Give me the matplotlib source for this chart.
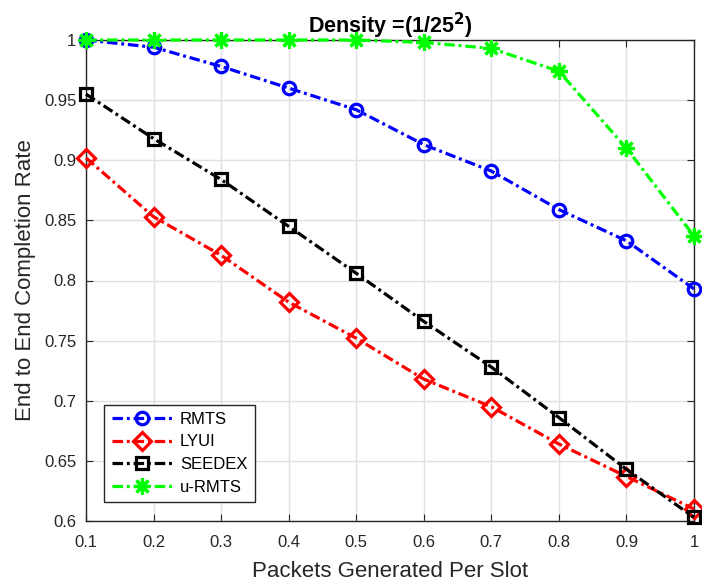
import matplotlib
matplotlib.use("Agg")
import matplotlib.pyplot as plt
from matplotlib.ticker import MultipleLocator, FuncFormatter

plt.rcParams['font.family'] = ['Liberation Sans', 'DejaVu Sans']

x = [0.1, 0.2, 0.3, 0.4, 0.5, 0.6, 0.7, 0.8, 0.9, 1.0]
rmts = [1.0, 0.994, 0.978, 0.960, 0.942, 0.913, 0.891, 0.859, 0.833, 0.793]
lyui = [0.902, 0.853, 0.821, 0.782, 0.752, 0.718, 0.695, 0.664, 0.637, 0.610]
seedex = [0.955, 0.918, 0.884, 0.845, 0.806, 0.766, 0.728, 0.686, 0.643, 0.603]
urmts = [1.0, 1.0, 1.0, 1.0, 1.0, 0.998, 0.993, 0.974, 0.910, 0.837]
labels = ['RMTS', 'LYUI', 'SEEDEX', 'u-RMTS']

fig = plt.figure(figsize=(7.02, 5.85), dpi=100)
ax = fig.add_axes([86/702, 64/585, 608/702, 481/585])

lw = 2.3
mew = 2.3
ls = (0, (3.3, 1.2, 0.9, 1.2))
ax.plot(x, rmts, ls=ls, color='#0000ff', lw=lw, marker='o', ms=9, mfc='none', mew=mew, label=labels[0], clip_on=False, zorder=3)
ax.plot(x, lyui, ls=ls, color='#ff0000', lw=lw, marker='D', ms=9.5, mfc='none', mew=mew, label=labels[1], clip_on=False, zorder=3)
ax.plot(x, seedex, ls=ls, color='#000000', lw=lw, marker='s', ms=8, mfc='none', mew=mew, label=labels[2], clip_on=False, zorder=3)
ax.plot(x, urmts, ls=ls, color='#00ff00', lw=lw, marker=(8, 2, 0), ms=12, mew=mew, label=labels[3], clip_on=False, zorder=3)

ax.set_xlim(0.1, 1.0)
ax.set_ylim(0.6, 1.0)
ax.xaxis.set_major_locator(MultipleLocator(0.1))
ax.yaxis.set_major_locator(MultipleLocator(0.05))
fmt = FuncFormatter(lambda v, p: '%g' % round(v, 2))
ax.xaxis.set_major_formatter(fmt)
ax.yaxis.set_major_formatter(fmt)
ax.grid(True, color='#e0e0e0', lw=1)
ax.set_axisbelow(True)
ax.tick_params(direction='in', length=5, labelsize=12, colors='#262626', top=True, right=True)
ax.tick_params(axis='y', pad=7)
ax.tick_params(axis='x', pad=10)
for s in ax.spines.values():
    s.set_color('#262626')
    s.set_linewidth(1)

ax.set_xlabel('Packets Generated Per Slot', fontsize=16, color='#262626', labelpad=8)
ax.set_ylabel('End to End Completion Rate', fontsize=16, color='#262626', labelpad=6)
ax.set_title('Density =(1/25$^{\\mathbf{2}}$)', fontsize=15.5, fontweight='bold', pad=5)

leg = ax.legend(loc='lower left', bbox_to_anchor=(18/608, 19/481), fontsize=12,
                frameon=True, fancybox=False, edgecolor='#262626', framealpha=1,
                handlelength=3.6, handletextpad=0.5, borderpad=0.45, labelspacing=0.45,
                borderaxespad=0)
leg.get_frame().set_linewidth(1)

fig.savefig('out.png', dpi=100)
